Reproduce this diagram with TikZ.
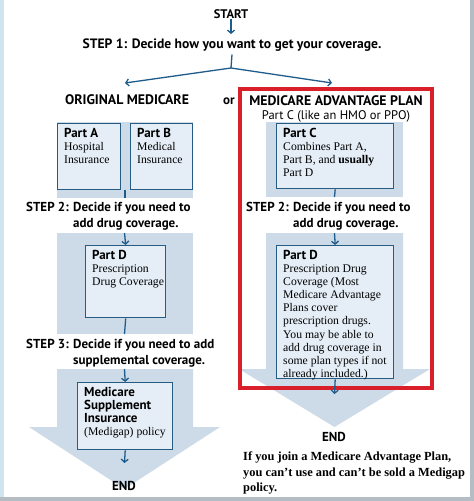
\documentclass[tikz,border=0pt]{standalone}
\usepackage{fontspec}
\setmainfont{Liberation Serif}
\setsansfont{PT Sans}
\usetikzlibrary{arrows.meta}
\definecolor{band}{HTML}{CDDBE8}
\definecolor{boxfill}{HTML}{E5EEF7}
\definecolor{boxline}{HTML}{265B83}
\definecolor{arrowc}{HTML}{1E5C8C}
\definecolor{redc}{HTML}{D81F2A}
\definecolor{frameL}{HTML}{CFE4EE}
\definecolor{frameR}{HTML}{B3BDC3}
\begin{document}
\begin{tikzpicture}[x=1pt,y=-1pt,
 head/.style={font=\sffamily\bfseries\fontsize{13}{16}\selectfont, inner sep=0pt},
 caphead/.style={font=\sffamily\bfseries\fontsize{13.8}{16}\selectfont, inner sep=0pt},
 boxnode/.style={draw=boxline, fill=boxfill, line width=1.4pt, inner sep=0pt, anchor=north west},
 boxtext/.style={anchor=north west, inner sep=0pt, align=left, font=\fontsize{11.7}{13.1}\selectfont},
 conn/.style={draw=arrowc, line width=1.3pt},
 arr/.style={conn, -{Straight Barb[length=3pt,width=7pt]}},
]
\newcommand{\plab}[1]{{\sffamily\bfseries\fontsize{13}{13.1}\selectfont #1}}
\useasboundingbox (0,0) rectangle (474,501);
\fill[white] (0,0) rectangle (474,501);
\fill[frameL] (0,0) rectangle (4,501);
\fill[frameR] (470,0) rectangle (474,501);
\fill[frameR] (0,497) rectangle (474,501);

% top
\node[head, font=\sffamily\bfseries\fontsize{12.5}{14}\selectfont] (start) at (231,14) {START};
\node[head, font=\sffamily\bfseries\fontsize{13.6}{16}\selectfont] (step1) at (232,45) {STEP 1: Decide how you want to get your coverage.};
\coordinate (branch) at (231,68);
\coordinate (lt) at (125,83);
\coordinate (rt) at (332,83);
\draw[arr] (start) -- (231,34);
\draw[conn] (step1.south) ++(0,3) -- (branch);
\draw[arr] (branch) -- (lt);
\draw[arr] (branch) -- (rt);

\node[caphead] (orig) at (127,100) {ORIGINAL MEDICARE};
\node[head] (or) at (229,101) {or};

% ---------- left column
\fill[band] (57,122) rectangle (193,198);
\node[boxnode, minimum width=63pt, minimum height=66pt] (pa) at (57,123) {};
\node[boxnode, minimum width=62pt, minimum height=66pt] (pb) at (130,123) {};
\node[boxtext] (pat) at ([xshift=7pt,yshift=-5pt]pa.north west) {\plab{Part A}\\Hospital\\Insurance};
\node[boxtext] (pbt) at ([xshift=7pt,yshift=-5pt]pb.north west) {\plab{Part B}\\Medical\\Insurance};
\coordinate (abgap) at (125,190);
\coordinate (abend) at (125,198);
\draw[conn] (abgap) -- (abend);

\node[head, anchor=west] (s2l) at (26,216) {\begin{tabular}{@{}l@{ }l@{}}STEP 2:&Decide if you need to\\&add drug coverage.\end{tabular}};

\fill[band] (57,233) rectangle (193,334);
\node[boxnode, minimum width=80pt, minimum height=72pt] (pdl) at (85,245) {};
\node[boxtext] (pdlt) at ([xshift=7pt,yshift=-5pt]pdl.north west) {\plab{Part D}\\Prescription\\Drug Coverage};
\coordinate (pdltop) at (124.5,233);
\coordinate (pdlbot) at (124.5,334);
\draw[arr] (pdltop) -- (pdl.north);
\draw[conn] (pdl.south) -- (pdlbot);

\node[head, anchor=west] (s3l) at (26,353) {\begin{tabular}{@{}l@{ }l@{}}STEP 3:&Decide if you need to add\\&supplemental coverage.\end{tabular}};

\fill[band] (57,369) -- (193,369) -- (193,427) -- (220,427) -- (124.5,489) -- (29,427) -- (57,427) -- cycle;
\node[boxnode, minimum width=95pt, minimum height=67pt] (ms) at (77,382) {};
\node[boxtext] (mst) at ([xshift=7pt,yshift=-5pt]ms.north west) {\plab{Medicare}\\\plab{Supplement}\\\plab{Insurance}\\(Medigap) policy};
\coordinate (mstop) at (124.5,369);
\coordinate (msend) at (124.5,463);
\draw[arr] (mstop) -- (ms.north);
\draw[arr] (ms.south) -- (msend);
\node[head] (endl) at (124,486) {END};

% ---------- right column
\fill[band] (266,122) rectangle (403,197);
\fill[band] (266,233) -- (403,233) -- (403,369) -- (430,369) -- (334.5,427) -- (239,369) -- (266,369) -- cycle;
\draw[redc, line width=4.5pt] (240,89) rectangle (432,388);

\node[caphead] (mapl) at (336,101) {MEDICARE ADVANTAGE PLAN};
\node[inner sep=0pt, font=\sffamily\fontsize{12.5}{14}\selectfont] (mapl2) at (336,116) {Part C (like an HMO or PPO)};

\node[boxnode, minimum width=117pt, minimum height=65pt] (pc) at (276,123) {};
\node[boxtext] (pct) at ([xshift=7pt,yshift=-5pt]pc.north west) {\plab{Part C}\\Combines Part A,\\Part B, and \textbf{usually}\\Part D};
\coordinate (pcend) at (334.5,197);
\draw[conn] (pc.south) -- (pcend);

\node[head, anchor=west] (s2r) at (246,216) {\begin{tabular}{@{}l@{ }l@{}}STEP 2:&Decide if you need to\\&add drug coverage.\end{tabular}};

\node[boxnode, minimum width=117pt, minimum height=133pt] (pdr) at (276,245) {};
\node[boxtext] (pdrt) at ([xshift=7pt,yshift=-5pt]pdr.north west) {\plab{Part D}\\Prescription Drug\\Coverage (Most\\Medicare Advantage\\Plans cover\\prescription drugs.\\You may be able to\\add drug coverage in\\some plan types if not\\already included.)};
\coordinate (pdrtop) at (334.5,233);
\coordinate (pdrend) at (334.5,394);
\draw[arr] (pdrtop) -- (pdr.north);
\draw[arr] (pdr.south) -- (pdrend);

\node[head] (endr) at (334,437) {END};
\node[anchor=north west, inner sep=0pt, align=left, font=\bfseries\fontsize{12.4}{15.5}\selectfont] (note) at (243,452) {If you join a Medicare Advantage Plan,\\you can’t use and can’t be sold a Medigap\\policy.};
\end{tikzpicture}
\end{document}
